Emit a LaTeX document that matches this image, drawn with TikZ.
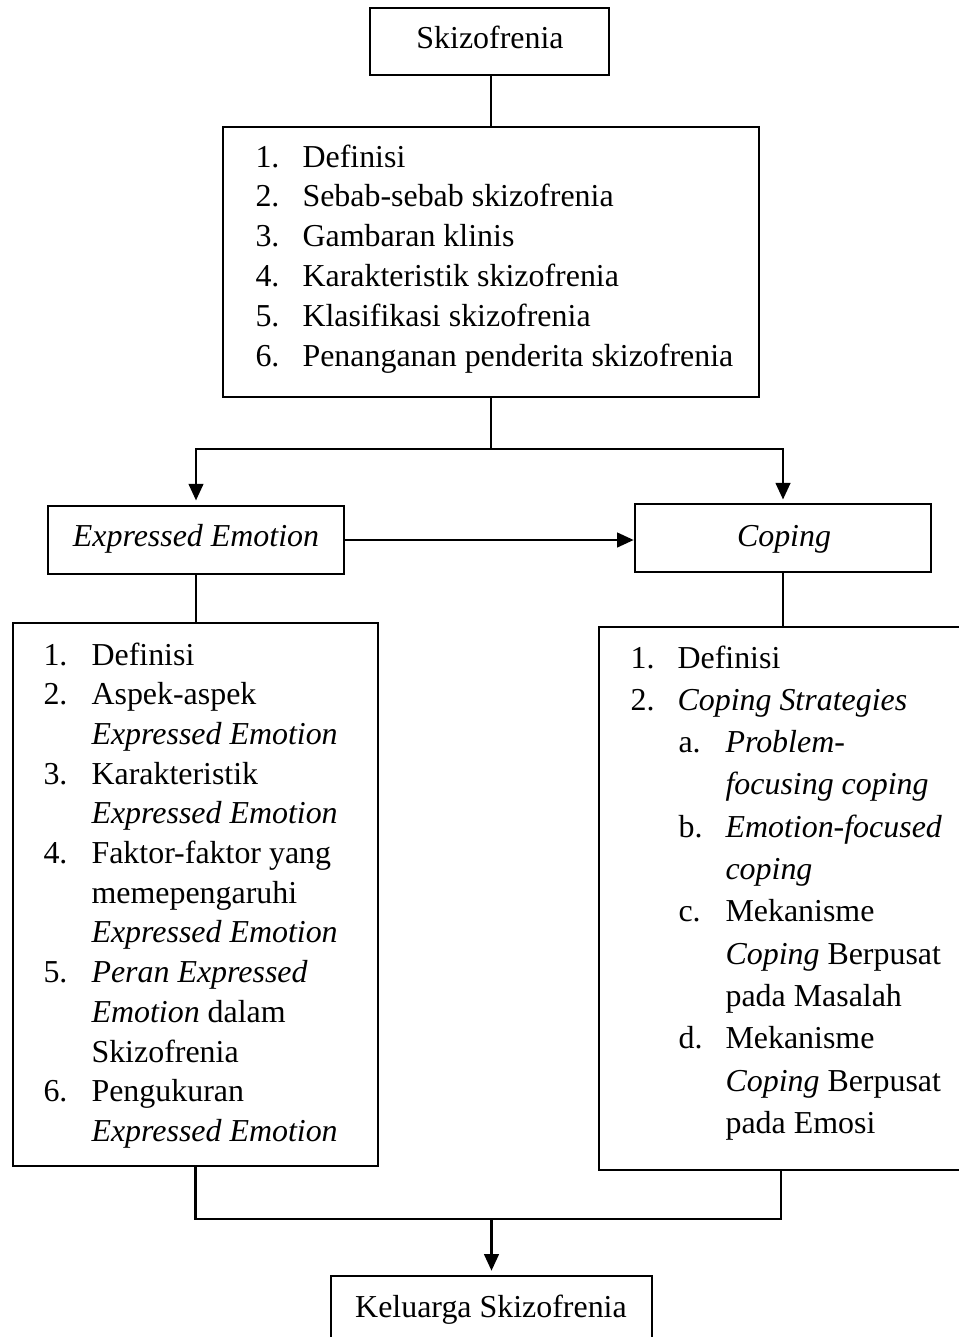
\documentclass[tikz,border=0pt]{standalone}
\usepackage{fontspec}
\setmainfont{Liberation Serif}
\usetikzlibrary{arrows.meta}
\newdimen\pu \pu=0.3759pt
\begin{document}
\begin{tikzpicture}[x=\pu, y=-\pu,
  font=\fontsize{12pt}{14pt}\selectfont,
  boxst/.style={draw, line width=1pt, inner sep=0pt, rectangle},
  txt/.style={anchor=base west, inner sep=0pt},
  ctr/.style={anchor=base, inner sep=0pt},
  conn/.style={line width=0.8pt},
  arr/.style={conn, -{Triangle[length=6.2pt,width=5.5pt]}}]
\useasboundingbox (0,0) rectangle (959,1337);
\clip (0,0) rectangle (959,1337);
% boxes
\node[boxst, minimum width=239\pu, minimum height=67\pu] (skz) at (489.5,41.5) {};
\node[boxst, minimum width=536\pu, minimum height=270\pu] (big) at (491,262) {};
\node[boxst, minimum width=296\pu, minimum height=68\pu] (ee) at (196,540) {};
\node[boxst, minimum width=296\pu, minimum height=68\pu] (cop) at (783,538) {};
\node[boxst, minimum width=365\pu, minimum height=543\pu] (lbox) at (195.5,894.5) {};
\node[boxst, minimum width=364\pu, minimum height=543\pu] (rbox) at (781,898.5) {};
\node[boxst, minimum width=321\pu, minimum height=68\pu] (kel) at (491.5,1310) {};
% titles
\node[ctr] (skzt) at (490,49) {Skizofrenia};
\node[ctr] (eet) at (196,546) {\textit{Expressed Emotion}};
\node[ctr] (copt) at (784,546) {\textit{Coping}};
\node[ctr] (kelt) at (491,1317) {Keluarga Skizofrenia};
% big list
\node[txt] (b1n) at (255,167) {1.};   \node[txt] (b1) at (302,167) {Definisi};
\node[txt] (b2n) at (255,206.8) {2.}; \node[txt] (b2) at (302,206.8) {Sebab-sebab skizofrenia};
\node[txt] (b3n) at (255,246.6) {3.}; \node[txt] (b3) at (302,246.6) {Gambaran klinis};
\node[txt] (b4n) at (255,286.4) {4.}; \node[txt] (b4) at (302,286.4) {Karakteristik skizofrenia};
\node[txt] (b5n) at (255,326.2) {5.}; \node[txt] (b5) at (302,326.2) {Klasifikasi skizofrenia};
\node[txt] (b6n) at (255,366) {6.};   \node[txt] (b6) at (302,366) {Penanganan penderita skizofrenia};
% left list
\node[txt] (l1n) at (43,665) {1.};    \node[txt] (l1) at (91,665) {Definisi};
\node[txt] (l2n) at (43,704.7) {2.};  \node[txt] (l2) at (91,704.7) {Aspek-aspek};
\node[txt] (l2b) at (91,744.4) {\textit{Expressed Emotion}};
\node[txt] (l3n) at (43,784.1) {3.};  \node[txt] (l3) at (91,784.1) {Karakteristik};
\node[txt] (l3b) at (91,823.8) {\textit{Expressed Emotion}};
\node[txt] (l4n) at (43,863.5) {4.};  \node[txt] (l4) at (91,863.5) {Faktor-faktor yang};
\node[txt] (l4b) at (91,903.2) {memepengaruhi};
\node[txt] (l4c) at (91,942.9) {\textit{Expressed Emotion}};
\node[txt] (l5n) at (43,982.6) {5.};  \node[txt] (l5) at (91,982.6) {\textit{Peran Expressed}};
\node[txt] (l5b) at (91,1022.3) {\textit{Emotion} dalam};
\node[txt] (l5c) at (91,1062) {Skizofrenia};
\node[txt] (l6n) at (43,1101.7) {6.}; \node[txt] (l6) at (91,1101.7) {Pengukuran};
\node[txt] (l6b) at (91,1141.4) {\textit{Expressed Emotion}};
% right list
\node[txt] (r1n) at (630,668) {1.};    \node[txt] (r1) at (677,668) {Definisi};
\node[txt] (r2n) at (630,710.3) {2.};  \node[txt] (r2) at (677,710.3) {\textit{Coping Strategies}};
\node[txt] (ran) at (678,752.6) {a.};  \node[txt] (ra) at (725,752.6) {\textit{Problem-}};
\node[txt] (rab) at (725,794.9) {\textit{focusing coping}};
\node[txt] (rbn) at (678,837.2) {b.};  \node[txt] (rb) at (725,837.2) {\textit{Emotion-focused}};
\node[txt] (rbb) at (725,879.5) {\textit{coping}};
\node[txt] (rcn) at (678,921.8) {c.};  \node[txt] (rc) at (725,921.8) {Mekanisme};
\node[txt] (rcb) at (725,964.1) {\textit{Coping} Berpusat};
\node[txt] (rcc) at (725,1006.4) {pada Masalah};
\node[txt] (rdn) at (678,1048.7) {d.}; \node[txt] (rd) at (725,1048.7) {Mekanisme};
\node[txt] (rdb) at (725,1091) {\textit{Coping} Berpusat};
\node[txt] (rdc) at (725,1133.3) {pada Emosi};
% connectors
\draw[conn] (big.north |- skz.south) -- (big.north);
\coordinate (split) at (491,449);
\draw[conn] (big.south) -- (split);
\draw[arr, shorten >=1.6pt] (split) -| (ee.north);
\draw[arr, shorten >=1.2pt] (split) -| (cop.north);
\draw[arr] (ee.east) -- (ee.east -| cop.west);
\draw[conn] (ee.south) -- (ee.south |- lbox.north);
\draw[conn] (cop.south) -- (cop.south |- rbox.north);
\coordinate (join) at (491.5,1219);
\draw[conn] (lbox.south) |- (join) -| (rbox.south);
\draw[arr, shorten >=1.5pt] (join) -- (kel.north);
\end{tikzpicture}
\end{document}
